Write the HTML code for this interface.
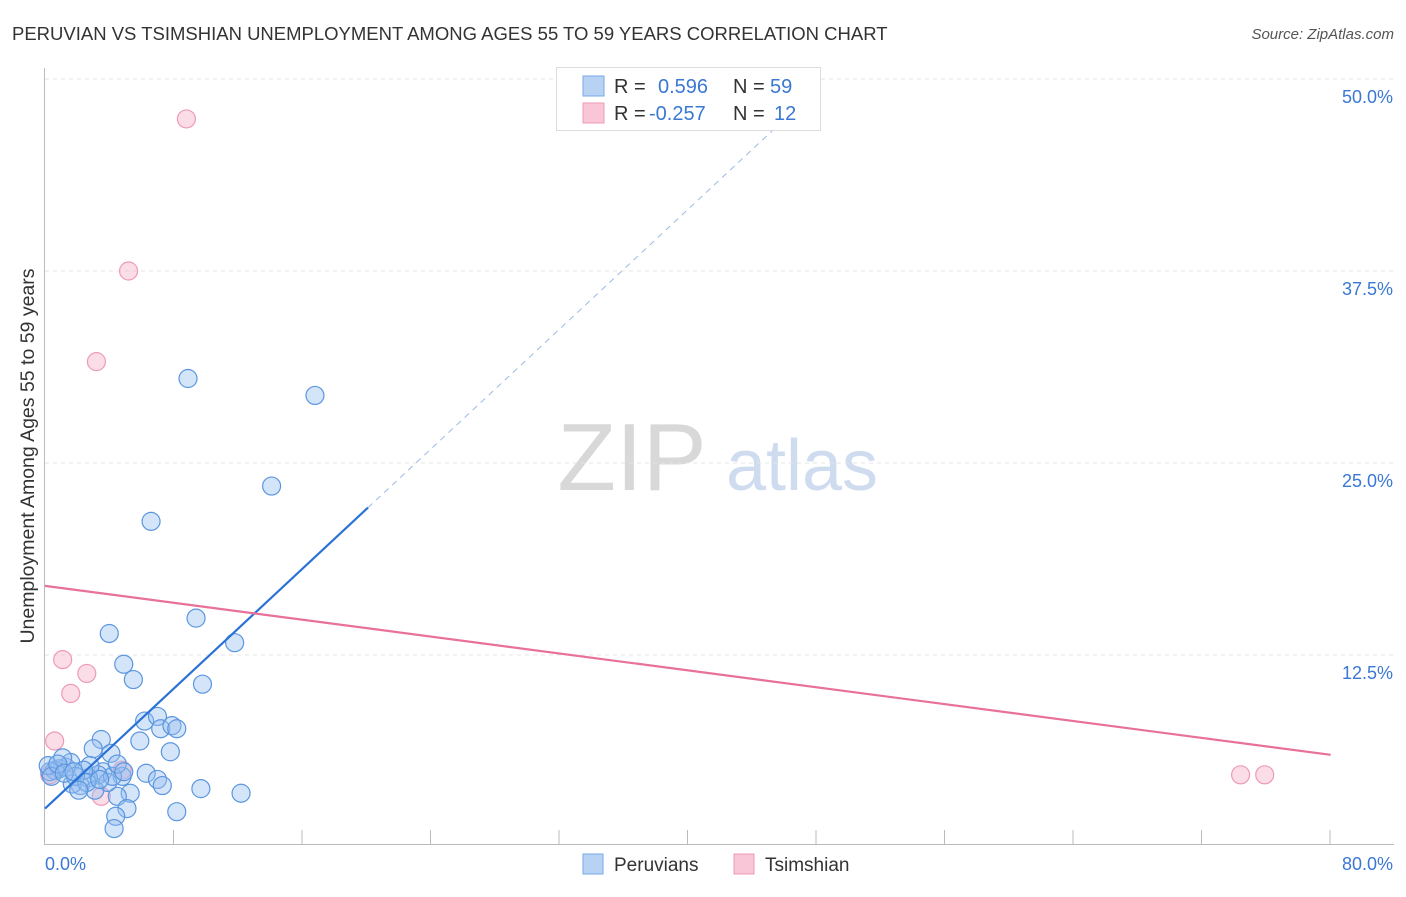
<!DOCTYPE html>
<html><head><meta charset="utf-8"><style>
body{margin:0;background:#fff;font-family:"Liberation Sans",sans-serif}
svg text{font-family:"Liberation Sans",sans-serif}
</style></head><body>
<svg id="chart" width="1406" height="892" xmlns="http://www.w3.org/2000/svg">
<text x="12" y="40" font-size="18.5" fill="#333">PERUVIAN VS TSIMSHIAN UNEMPLOYMENT AMONG AGES 55 TO 59 YEARS CORRELATION CHART</text>
<text x="1394" y="39" font-size="15" fill="#555" text-anchor="end" font-style="italic">Source: ZipAtlas.com</text>
<g>
<text x="632" y="490" font-size="96" fill="#d8d8d8" font-family="Liberation Serif" text-anchor="middle">ZIP</text>
<text x="802" y="490" font-size="72" fill="#cfdcf0" text-anchor="middle">atlas</text>
</g>
<g id="grid"></g>
<g id="axes"></g>
<g id="marks"></g>
<g>
<rect x="556.5" y="67.5" width="264" height="63" fill="#fff" stroke="#ddd"/>
<rect x="583" y="76" width="21" height="20" fill="#b8d2f4" stroke="#7aa8e8"/>
<rect x="583" y="103" width="21" height="20" fill="#f8c6d6" stroke="#f09ab5"/>
<text x="614" y="93" font-size="20" fill="#333">R =</text>
<text x="658" y="93" font-size="20" fill="#3a78d4">0.596</text>
<text x="733" y="93" font-size="20" fill="#333">N =</text>
<text x="770" y="93" font-size="20" fill="#3a78d4">59</text>
<text x="614" y="120" font-size="20" fill="#333">R =</text>
<text x="649" y="120" font-size="20" fill="#3a78d4">-0.257</text>
<text x="733" y="120" font-size="20" fill="#333">N =</text>
<text x="774" y="120" font-size="20" fill="#3a78d4">12</text>
</g>
<g>
<rect x="583" y="854" width="20" height="20" fill="#b8d2f4" stroke="#7aa8e8"/>
<text x="614" y="871" font-size="19" fill="#333">Peruvians</text>
<rect x="734" y="854" width="20" height="20" fill="#f8c6d6" stroke="#f09ab5"/>
<text x="765" y="871" font-size="19" fill="#333">Tsimshian</text>
</g>
<text transform="translate(34,456) rotate(-90)" font-size="19.5" fill="#333" text-anchor="middle">Unemployment Among Ages 55 to 59 years</text>
</svg>
<script>
const blueX=[8.9,16.8,14.1,6.6,9.4,4.0,11.8,4.9,5.5,9.8,6.2,7.0,7.2,7.9,8.2,5.9,7.8,3.5,4.1,3.0,6.3,7.0,7.3,9.7,12.2,5.3,4.5,5.1,4.4,4.3,8.2,4.8,3.6,3.3,2.7,2.2,1.7,1.3,0.9,0.6,0.3,0.2,1.6,1.1,2.8,3.9,4.2,2.4,1.9,3.1,0.4,0.8,1.2,1.8,2.6,3.4,2.1,4.5,4.9];
const blueY=[30.5,29.4,23.5,21.2,14.9,13.9,13.3,11.9,10.9,10.6,8.2,8.5,7.7,7.9,7.7,6.9,6.2,7.0,6.1,6.4,4.8,4.4,4.0,3.8,3.5,3.5,3.3,2.5,2.0,1.2,2.3,4.6,4.9,4.7,4.5,4.0,4.1,5.2,5.1,5.0,4.9,5.3,5.5,5.8,5.3,4.2,4.6,5.0,4.6,3.7,4.6,5.4,4.8,4.9,4.2,4.4,3.7,5.4,4.9];
const pinkX=[8.8,5.2,3.2,1.1,2.6,1.6,0.6,4.8,3.5,74.4,75.9,0.3];
const pinkY=[47.4,37.5,31.6,12.2,11.3,10.0,6.9,5.0,3.3,4.7,4.7,4.7];
const blueTrend=[2.5,0.975];
const pinkTrend=[17.0,-0.1375];
const yTicks=[12.5,25.0,37.5,50.0];
const xTickLabels=["0.0%","80.0%"];
const NS="http://www.w3.org/2000/svg";
const X=v=>45+v*16.07, Y=v=>847-v*15.36;
function mk(tag,attrs,parent){const e=document.createElementNS(NS,tag);for(const k in attrs)e.setAttribute(k,attrs[k]);document.getElementById(parent).appendChild(e);return e;}
yTicks.forEach(t=>{
 const l=mk('line',{x1:45,x2:1394,y1:Y(t),y2:Y(t),stroke:'#e4e4e4','stroke-dasharray':'4,4'},'grid');
 
 
 const tx=mk('text',{x:1393,y:Y(t)+24,'font-size':18,fill:'#3a78d4','text-anchor':'end'},'axes');
 tx.textContent=t.toFixed(1)+'%';
 
 
});
const ax=mk('line',{x1:44.5,x2:44.5,y1:68,y2:845,stroke:'#bbb'},'axes');


const bx=mk('line',{x1:44,x2:1394,y1:844.5,y2:844.5,stroke:'#bbb'},'axes');


for(let i=1;i<=10;i++){const xx=Math.min(1330,45+i*128.5);
 const t=mk('line',{x1:xx,x2:xx,y1:830,y2:845,stroke:'#bbb'},'axes');
 
 }
xTickLabels.forEach((s,i)=>{const t=mk('text',{x:i?1393:45,y:870,'font-size':18,fill:'#3a78d4','text-anchor':i?'end':'start'},'axes');t.textContent=s;
 
 });
function dot(x,y,fill,stroke,name){const c=mk('circle',{cx:X(x),cy:Y(y),r:9,fill:fill,stroke:stroke,'stroke-width':1.2},'marks');
 
 }
pinkX.forEach((x,i)=>dot(x,pinkY[i],'rgba(246,170,196,0.4)','#ee9ab6','tsimshian-point'));
blueX.forEach((x,i)=>dot(x,blueY[i],'rgba(150,190,240,0.4)','#5a96e0','peruvian-point'));
const bs=mk('line',{x1:X(0),y1:Y(blueTrend[0]),x2:X(20.1),y2:Y(blueTrend[0]+blueTrend[1]*20.1),stroke:'#2a72d6','stroke-width':2.2},'marks');


const bd=mk('line',{x1:X(20.1),y1:Y(blueTrend[0]+blueTrend[1]*20.1),x2:X(48.2),y2:Y(blueTrend[0]+blueTrend[1]*48.2),stroke:'#9dbbe6','stroke-width':1,'stroke-dasharray':'6,5'},'marks');


const pl=mk('line',{x1:X(0),y1:Y(pinkTrend[0]),x2:X(80),y2:Y(pinkTrend[0]+pinkTrend[1]*80),stroke:'#e8709a','stroke-width':2.2},'marks');


</script>
</body></html>
